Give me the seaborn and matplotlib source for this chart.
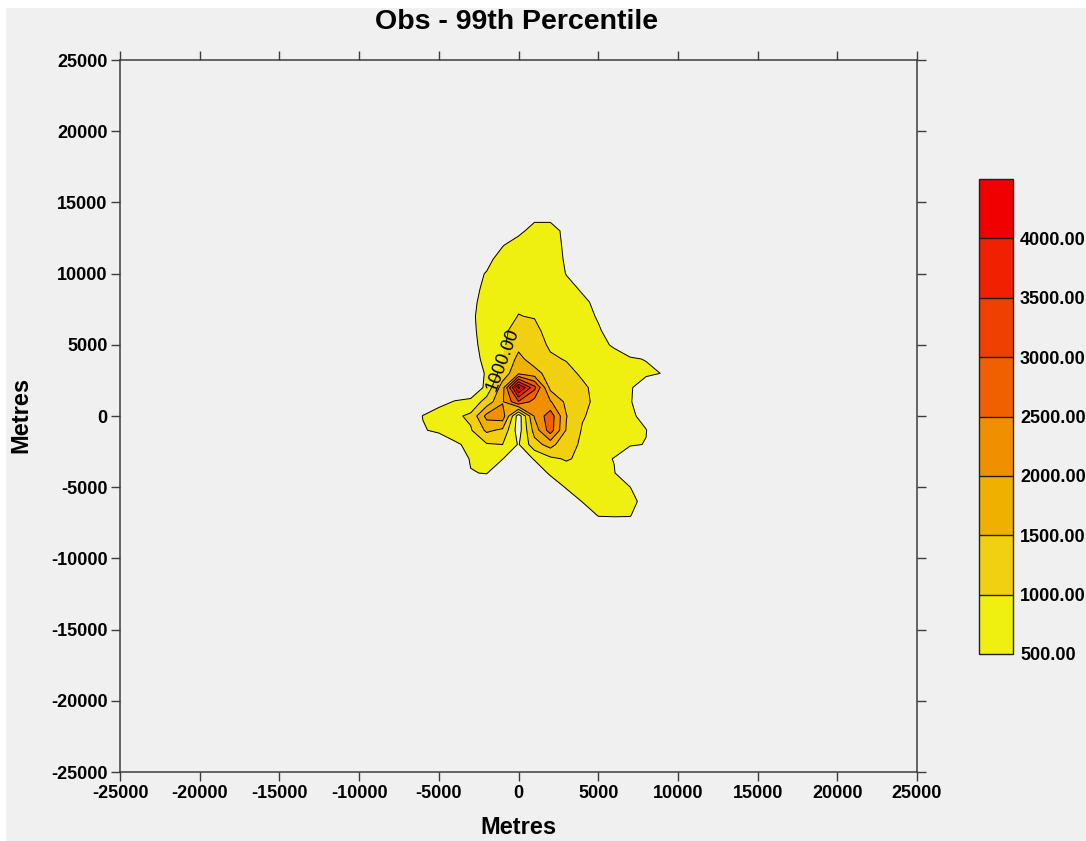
import numpy as np
import matplotlib
matplotlib.use('Agg')
import matplotlib.pyplot as plt
from matplotlib.colors import ListedColormap, BoundaryNorm
from matplotlib.cm import ScalarMappable
from matplotlib.patches import Rectangle
import seaborn as sns

# receptor grid (metres); rows of CONC run from the top (y = 14000) down
X_M = [-7000, -6000, -5000, -4000, -3000, -2000, -1000, 0, 1000, 2000,
       3000, 4000, 5000, 6000, 7000, 8000, 9000, 10000]
Y_M = [14000, 13000, 12000, 11000, 10000, 9000, 8000, 7000, 6000, 5000, 4000,
       3000, 2000, 1000, 0, -1000, -2000, -3000, -4000, -5000, -6000, -7000, -8000]

# 99th percentile values
CONC = [
    [0, 0, 0, 0, 0, 0, 0, 0, 300, 300, 0, 0, 0, 0, 0, 0, 0, 0],
    [0, 0, 0, 0, 0, 0, 0, 300, 800, 800, 300, 0, 0, 0, 0, 0, 0, 0],
    [0, 0, 0, 0, 0, 0, 460, 850, 850, 850, 350, 0, 0, 0, 0, 0, 0, 0],
    [0, 0, 0, 0, 0, 300, 800, 900, 900, 850, 410, 0, 0, 0, 0, 0, 0, 0],
    [0, 0, 0, 0, 270, 540, 800, 900, 900, 850, 480, 0, 0, 0, 0, 0, 0, 0],
    [0, 0, 0, 0, 200, 700, 850, 900, 900, 850, 650, 430, 0, 0, 0, 0, 0, 0],
    [0, 0, 0, 0, 330, 750, 850, 950, 950, 900, 750, 600, 380, 0, 0, 0, 0, 0],
    [0, 0, 0, 0, 390, 760, 880, 1010, 980, 900, 800, 700, 450, 0, 0, 0, 0, 0],
    [0, 0, 0, 0, 365, 750, 890, 1200, 1100, 850, 800, 700, 560, 260, 0, 0, 0, 0],
    [0, 0, 0, 0, 295, 750, 910, 1350, 1150, 950, 850, 750, 650, 435, 0, 0, 0, 0],
    [0, 0, 0, 0, 200, 700, 980, 1650, 1250, 1050, 980, 900, 800, 700, 580, 470, 0, 0],
    [0, 0, 0, 0, 160, 560, 1200, 1900, 1700, 1270, 1100, 950, 850, 750, 700, 650, 480, 0],
    [0, 0, 0, 0, 0, 650, 1750, 4600, 3150, 1350, 1250, 1060, 900, 750, 600, 0, 0, 0],
    [0, 0, 300, 540, 650, 1200, 1950, 2950, 2300, 2050, 1380, 1100, 900, 750, 560, 0, 0, 0],
    [0, 520, 800, 900, 1100, 2150, 2300, 200, 2050, 2800, 1520, 1040, 850, 750, 620, 300, 0, 0],
    [0, 450, 620, 750, 950, 1600, 1400, 250, 1700, 2750, 1460, 960, 820, 720, 640, 520, 0, 0],
    [0, 0, 0, 420, 620, 950, 1000, 460, 1300, 1700, 1100, 960, 800, 700, 560, 480, 0, 0],
    [0, 0, 0, 0, 560, 750, 520, 0, 560, 900, 1050, 900, 650, 480, 0, 0, 0, 0],
    [0, 0, 0, 0, 470, 530, 0, 0, 0, 620, 750, 720, 650, 530, 0, 0, 0, 0],
    [0, 0, 0, 0, 0, 0, 0, 0, 0, 0, 560, 680, 700, 650, 510, 0, 0, 0],
    [0, 0, 0, 0, 0, 0, 0, 0, 0, 0, 0, 520, 640, 660, 600, 380, 0, 0],
    [0, 0, 0, 0, 0, 0, 0, 0, 0, 0, 0, 0, 520, 540, 530, 0, 0, 0],
    [0, 0, 0, 0, 0, 0, 0, 0, 0, 0, 0, 0, 0, 0, 0, 0, 0, 0],
]

LEVELS = [500, 1000, 1500, 2000, 2500, 3000, 3500, 4000, 4500]
LABEL_LEVEL = 1000
BAND_COLOURS = ['#F0F010', '#F0D010', '#F0B000', '#F09000',
                '#F06000', '#F04000', '#F02000', '#F00000']
AXIS_TICKS = [-25000, -20000, -15000, -10000, -5000, 0,
              5000, 10000, 15000, 20000, 25000]
BG = '#F0F0F0'

sns.set_style('ticks', rc={'axes.facecolor': BG, 'figure.facecolor': BG,
                           'axes.edgecolor': '#3c3c3c', 'text.color': 'black',
                           'axes.labelcolor': 'black', 'xtick.color': 'black',
                           'ytick.color': 'black'})
plt.rcParams['font.family'] = ['Liberation Sans', 'DejaVu Sans']
plt.rcParams['axes.unicode_minus'] = False

fig = plt.figure(figsize=(10.86, 8.41), dpi=100)
fig.add_artist(Rectangle((0, 1 - 7 / 841), 1, 7 / 841, transform=fig.transFigure,
                         color='white', zorder=-5))
fig.add_artist(Rectangle((0, 0), 5 / 1086, 1, transform=fig.transFigure,
                         color='white', zorder=-5))
ax = fig.add_axes([0.1105, 0.0820, 0.7339, 0.8466])

z = np.array(CONC, dtype=float)[::-1]
y = Y_M[::-1]
# anything above the top level keeps the top colour
ax.contourf(X_M, y, z, levels=LEVELS, colors=BAND_COLOURS + BAND_COLOURS[-1:],
            extend='max')
other = [v for v in LEVELS if v != LABEL_LEVEL]
ax.contour(X_M, y, z, levels=other, colors='k', linewidths=0.7)
line1k = ax.contour(X_M, y, z, levels=[LABEL_LEVEL], colors='k', linewidths=0.7)
labels = ax.clabel(line1k, manual=[(-1000, 4000)], fmt='%.2f',
                   fontsize=13, colors='k', inline=True, inline_spacing=1)
for t in labels:
    t.set_fontweight('normal')

ax.set_xlim(-25000, 25000)
ax.set_ylim(-25000, 25000)
ax.set_xticks(AXIS_TICKS)
ax.set_yticks(AXIS_TICKS)
ax.tick_params(axis='both', direction='out', length=6.5, width=1, color='#3c3c3c',
               top=True, right=True, labelsize=13, pad=2.5)
for lab in ax.get_xticklabels() + ax.get_yticklabels():
    lab.set_fontweight('bold')
for sp in ax.spines.values():
    sp.set_visible(True)
    sp.set_linewidth(1.1)

ax.set_xlabel('Metres', fontsize=17, fontweight='bold')
ax.set_ylabel('Metres', fontsize=17, fontweight='bold')
ax.xaxis.label.set_va('center')
ax.yaxis.label.set_va('center')
ax.xaxis.set_label_coords(0.5, -0.0772)
ax.yaxis.set_label_coords(-0.1242, 0.501)

fig.text(516.5 / 1086, 1 - 22 / 841, 'Obs - 99th Percentile', ha='center', va='center',
         fontsize=20.5, fontweight='bold')

# colour key
cax = fig.add_axes([979 / 1086, 1 - 654 / 841, 34 / 1086, 475 / 841])
sm = ScalarMappable(norm=BoundaryNorm(LEVELS, len(BAND_COLOURS)),
                    cmap=ListedColormap(BAND_COLOURS))
cb = fig.colorbar(sm, cax=cax, ticks=LEVELS[:-1], drawedges=True)
cb.ax.set_yticklabels([f'{v:.2f}' for v in LEVELS[:-1]])
cb.ax.tick_params(length=0, pad=5, labelsize=13)
cb.ax.minorticks_off()
for lab in cb.ax.get_yticklabels():
    lab.set_fontweight('bold')
cb.outline.set_linewidth(1)
cb.outline.set_edgecolor('#202020')
cb.dividers.set_color('#202020')
cb.dividers.set_linewidth(1)

plt.savefig('out.png', dpi=100)
plt.close()
